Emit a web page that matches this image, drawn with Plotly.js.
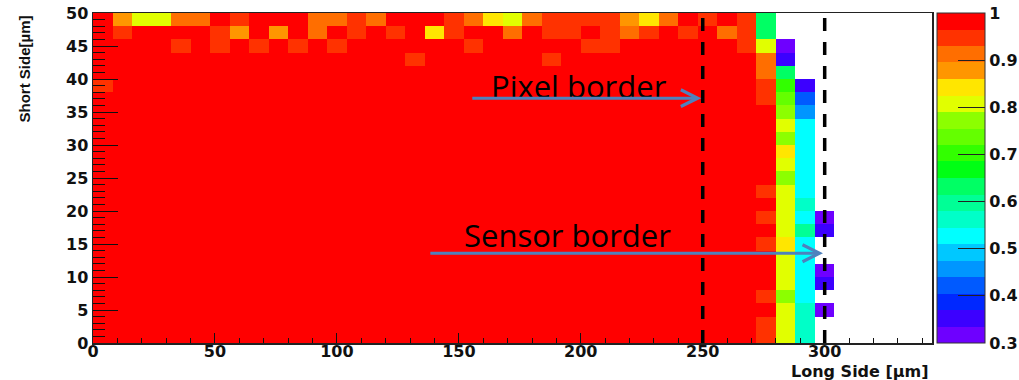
<!DOCTYPE html>
<html>
<head>
<meta charset="utf-8">
<script src="https://cdn.plot.ly/plotly-3.0.1.min.js"></script>
<style>
  html, body { margin: 0; padding: 0; background: #ffffff; }
  #chart { width: 1019px; height: 380px; }
</style>
</head>
<body>
<div id="chart"></div>
<script>
// Hit efficiency per 8 um x 2 um cell of a pixel corner.
// Rows are listed from the top strip (48-50 um) down to 0-2 um;
// columns run along the long side, 0-8 um first. NA = no entries.
const NA = null;
const binLong = 8;   // um, long side
const binShort = 2;  // um, short side

const efficiencyRows = [
  [1, 0.88, 0.81, 0.81, 0.91, 0.91, 1, 0.95, 1, 1,   1, 0.91, 0.91, 0.95, 0.91, 1, 1, 1, 0.95, 0.91,   0.84, 0.81, 0.91, 0.95, 0.95, 0.95, 0.95, 0.88, 0.84, 0.91,   1, 0.95, 1, 0.95, 0.63, NA, NA, NA, NA, NA,   NA, NA, NA],
  [1, 0.95, 1, 1, 1, 1, 0.95, 0.88, 1, 0.88,   1, 0.91, 1, 0.95, 1, 0.95, 1, 0.84, 0.95, 1,   1, 0.91, 1, 0.95, 0.95, 1, 0.95, 0.91, 0.95, 1,   0.95, 1, 0.91, 0.95, 0.63, NA, NA, NA, NA, NA,   NA, NA, NA],
  [1, 1, 1, 1, 0.95, 1, 0.95, 1, 0.95, 1,   0.95, 1, 0.95, 1, 1, 1, 1, 1, 1, 0.95,   1, 1, 1, 1, 1, 0.95, 0.95, 1, 1, 1,   1, 1, 1, 0.95, 0.81, 0.32, NA, NA, NA, NA,   NA, NA, NA],
  [1, 1, 1, 1, 1, 1, 1, 1, 1, 1,   1, 1, 1, 1, 1, 1, 0.95, 1, 1, 1,   1, 1, 1, 0.95, 1, 1, 1, 1, 1, 1,   1, 1, 1, 1, 0.91, 0.35, NA, NA, NA, NA,   NA, NA, NA],
  [1, 1, 1, 1, 1, 1, 1, 1, 1, 1,   1, 1, 1, 1, 1, 1, 1, 1, 1, 1,   1, 1, 1, 1, 1, 1, 1, 1, 1, 1,   1, 1, 1, 1, 0.91, 0.63, NA, NA, NA, NA,   NA, NA, NA],
  [0.95, 1, 1, 1, 1, 1, 1, 1, 1, 1,   1, 1, 1, 1, 1, 1, 1, 1, 1, 1,   1, 1, 1, 1, 1, 1, 1, 1, 1, 1,   1, 1, 1, 1, 0.95, 0.70, 0.36, NA, NA, NA,   NA, NA, NA],
  [1, 1, 1, 1, 1, 1, 1, 1, 1, 1,   1, 1, 1, 1, 1, 1, 1, 1, 1, 1,   1, 1, 1, 1, 1, 1, 1, 1, 1, 1,   1, 1, 1, 1, 0.95, 0.74, 0.42, NA, NA, NA,   NA, NA, NA],
  [1, 1, 1, 1, 1, 1, 1, 1, 1, 1,   1, 1, 1, 1, 1, 1, 1, 1, 1, 1,   1, 1, 1, 1, 1, 1, 1, 1, 1, 1,   1, 1, 1, 1, 1, 0.77, 0.46, NA, NA, NA,   NA, NA, NA],
  [1, 1, 1, 1, 1, 1, 1, 1, 1, 1,   1, 1, 1, 1, 1, 1, 1, 1, 1, 1,   1, 1, 1, 1, 1, 1, 1, 1, 1, 1,   1, 1, 1, 1, 1, 0.81, 0.53, NA, NA, NA,   NA, NA, NA],
  [1, 1, 1, 1, 1, 1, 1, 1, 1, 1,   1, 1, 1, 1, 1, 1, 1, 1, 1, 1,   1, 1, 1, 1, 1, 1, 1, 1, 1, 1,   1, 1, 1, 1, 1, 0.77, 0.53, NA, NA, NA,   NA, NA, NA],
  [1, 1, 1, 1, 1, 1, 1, 1, 1, 1,   1, 1, 1, 1, 1, 1, 1, 1, 1, 1,   1, 1, 1, 1, 1, 1, 1, 1, 1, 1,   1, 1, 1, 1, 1, 0.84, 0.53, NA, NA, NA,   NA, NA, NA],
  [1, 1, 1, 1, 1, 1, 1, 1, 1, 1,   1, 1, 1, 1, 1, 1, 1, 1, 1, 1,   1, 1, 1, 1, 1, 1, 1, 1, 1, 1,   1, 1, 1, 1, 1, 0.81, 0.53, NA, NA, NA,   NA, NA, NA],
  [1, 1, 1, 1, 1, 1, 1, 1, 1, 1,   1, 1, 1, 1, 1, 1, 1, 1, 1, 1,   1, 1, 1, 1, 1, 1, 1, 1, 1, 1,   1, 1, 1, 1, 1, 0.77, 0.53, NA, NA, NA,   NA, NA, NA],
  [1, 1, 1, 1, 1, 1, 1, 1, 1, 1,   1, 1, 1, 1, 1, 1, 1, 1, 1, 1,   1, 1, 1, 1, 1, 1, 1, 1, 1, 1,   1, 1, 1, 1, 0.95, 0.81, 0.53, NA, NA, NA,   NA, NA, NA],
  [1, 1, 1, 1, 1, 1, 1, 1, 1, 1,   1, 1, 1, 1, 1, 1, 1, 1, 1, 1,   1, 1, 1, 1, 1, 1, 1, 1, 1, 1,   1, 1, 1, 1, 1, 0.81, 0.56, NA, NA, NA,   NA, NA, NA],
  [1, 1, 1, 1, 1, 1, 1, 1, 1, 1,   1, 1, 1, 1, 1, 1, 1, 1, 1, 1,   1, 1, 1, 1, 1, 1, 1, 1, 1, 1,   1, 1, 1, 1, 0.95, 0.81, 0.53, 0.32, NA, NA,   NA, NA, NA],
  [1, 1, 1, 1, 1, 1, 1, 1, 1, 1,   1, 1, 1, 1, 1, 1, 1, 1, 1, 1,   1, 1, 1, 1, 1, 1, 1, 1, 1, 1,   1, 1, 1, 1, 1, 0.81, 0.60, 0.35, NA, NA,   NA, NA, NA],
  [1, 1, 1, 1, 1, 1, 1, 1, 1, 1,   1, 1, 1, 1, 1, 1, 1, 1, 1, 1,   1, 1, 1, 1, 1, 1, 1, 1, 1, 1,   1, 1, 1, 1, 0.95, 0.84, 0.53, NA, NA, NA,   NA, NA, NA],
  [1, 1, 1, 1, 1, 1, 1, 1, 1, 1,   1, 1, 1, 1, 1, 1, 1, 1, 1, 1,   1, 1, 1, 1, 1, 1, 1, 1, 1, 1,   1, 1, 1, 1, 1, 0.81, 0.53, NA, NA, NA,   NA, NA, NA],
  [1, 1, 1, 1, 1, 1, 1, 1, 1, 1,   1, 1, 1, 1, 1, 1, 1, 1, 1, 1,   1, 1, 1, 1, 1, 1, 1, 1, 1, 1,   1, 1, 1, 1, 1, 0.81, 0.53, 0.32, NA, NA,   NA, NA, NA],
  [1, 1, 1, 1, 1, 1, 1, 1, 1, 1,   1, 1, 1, 1, 1, 1, 1, 1, 1, 1,   1, 1, 1, 1, 1, 1, 1, 1, 1, 1,   1, 1, 1, 1, 1, 0.81, 0.53, 0.35, NA, NA,   NA, NA, NA],
  [1, 1, 1, 1, 1, 1, 1, 1, 1, 1,   1, 1, 1, 1, 1, 1, 1, 1, 1, 1,   1, 1, 1, 1, 1, 1, 1, 1, 1, 1,   1, 1, 1, 1, 0.95, 0.77, 0.53, NA, NA, NA,   NA, NA, NA],
  [1, 1, 1, 1, 1, 1, 1, 1, 1, 1,   1, 1, 1, 1, 1, 1, 1, 1, 1, 1,   1, 1, 1, 1, 1, 1, 1, 1, 1, 1,   1, 1, 1, 1, 1, 0.81, 0.56, 0.32, NA, NA,   NA, NA, NA],
  [1, 1, 1, 1, 1, 1, 1, 1, 1, 1,   1, 1, 1, 1, 1, 1, 1, 1, 1, 1,   1, 1, 1, 1, 1, 1, 1, 1, 1, 1,   1, 1, 1, 1, 0.95, 0.81, 0.56, NA, NA, NA,   NA, NA, NA],
  [1, 1, 1, 1, 1, 1, 1, 1, 1, 1,   1, 1, 1, 1, 1, 1, 1, 1, 1, 1,   1, 1, 1, 1, 1, 1, 1, 1, 1, 1,   1, 1, 1, 1, 0.95, 0.81, 0.56, NA, NA, NA,   NA, NA, NA]
];

// 20 contour colours from 0.3 (violet) up to 1.0 (red)
const contourColours = [
  '#6e00ff', '#3c00ff', '#0028ff', '#005aff', '#0096ff',
  '#00c8ff', '#00ffff', '#00ffc8', '#00ff96', '#00ff64',
  '#00ff14', '#32ff00', '#64ff00', '#8cff00', '#e1ff00',
  '#ffe600', '#ff9600', '#ff6e00', '#ff3200', '#ff0000'
];
const zLow = 0.3;
const zHigh = 1.0;
const colourTickValues = [0.3, 0.4, 0.5, 0.6, 0.7, 0.8, 0.9, 1.0];
const colourTickLabels = ['0.3', '0.4', '0.5', '0.6', '0.7', '0.8', '0.9', '1'];

// Long-side positions of the pixel border and the sensor border (um)
const borderLines = [250, 300];

// stepped colour scale: each contour band gets one flat colour
const stepScale = [];
contourColours.forEach((c, i) => {
  stepScale.push([i / contourColours.length, c]);
  stepScale.push([(i + 1) / contourColours.length, c]);
});

const boldFont = { family: 'DejaVu Sans, sans-serif', size: 16, weight: 'bold', color: '#111111' };

const trace = {
  type: 'heatmap',
  z: efficiencyRows.slice().reverse(),
  x0: binLong / 2,
  dx: binLong,
  y0: binShort / 2,
  dy: binShort,
  zmin: zLow,
  zmax: zHigh,
  zsmooth: false,
  colorscale: stepScale,
  hoverongaps: false,
  colorbar: {
    x: 1.006, xanchor: 'left', xpad: 0,
    y: 0.5, yanchor: 'middle', ypad: 0,
    len: 1, lenmode: 'fraction',
    thickness: 48, thicknessmode: 'pixels',
    outlinewidth: 1, outlinecolor: '#333333',
    ticks: 'inside', ticklen: 27, tickwidth: 1, tickcolor: '#222222',
    tickvals: colourTickValues, ticktext: colourTickLabels,
    tickfont: boldFont
  }
};

const shapes = borderLines.map(xv => ({
  type: 'line', xref: 'x', yref: 'y',
  x0: xv, x1: xv, y0: 0, y1: 50,
  line: { color: '#000000', width: 3.5, dash: '13px,11px' },
  layer: 'above'
}));

const arrowStyle = {
  xref: 'x', yref: 'y', axref: 'x', ayref: 'y',
  showarrow: true, arrowhead: 5, arrowsize: 1.1, arrowwidth: 3,
  arrowcolor: '#4f81bd', standoff: 0, text: ''
};
const noteFont = { family: 'Open Sans, sans-serif', size: 31, color: '#000000' };

const annotations = [
  // axis titles
  {
    text: 'Short Side[\u00b5m]', textangle: -90, showarrow: false,
    xref: 'paper', yref: 'paper', x: 0, y: 1, xanchor: 'center', yanchor: 'top',
    xshift: -69, yshift: -1,
    font: { family: 'Liberation Sans, Arial, sans-serif', size: 15, weight: 'bold', color: '#111111' }
  },
  {
    text: 'Long Side [\u00b5m]', showarrow: false,
    xref: 'paper', yref: 'paper', x: 1, y: 0, xanchor: 'right', yanchor: 'top',
    xshift: -1, yshift: -17,
    font: { family: 'DejaVu Sans, sans-serif', size: 16, weight: 'bold', color: '#111111' }
  },
  // border labels and arrows
  {
    text: 'Pixel border', showarrow: false, xref: 'x', yref: 'y',
    x: 199.1, y: 38.9, xanchor: 'center', yanchor: 'middle', font: noteFont
  },
  Object.assign({ x: 249.4, y: 37.1, ax: 154.9, ay: 37.1 }, arrowStyle),
  {
    text: 'Sensor border', showarrow: false, xref: 'x', yref: 'y',
    x: 194.5, y: 16.3, xanchor: 'center', yanchor: 'middle', font: noteFont
  },
  Object.assign({ x: 299.3, y: 13.6, ax: 137.7, ay: 13.6 }, arrowStyle)
];

const layout = {
  width: 1019,
  height: 380,
  margin: { l: 93, r: 87, t: 13, b: 37, pad: 0, autoexpand: false },
  paper_bgcolor: '#ffffff',
  plot_bgcolor: '#ffffff',
  font: { family: 'DejaVu Sans, sans-serif', color: '#111111' },
  showlegend: false,
  xaxis: {
    range: [0, 344], tick0: 0, dtick: 50,
    ticks: 'inside', ticklen: 10, tickwidth: 1, tickcolor: '#111111',
    minor: { dtick: 10, ticks: 'inside', ticklen: 5, tickwidth: 1, tickcolor: '#111111' },
    showline: true, linecolor: '#222222', linewidth: 1.5, mirror: true,
    showgrid: false, zeroline: false, fixedrange: true,
    ticklabelstandoff: -7,
    tickfont: boldFont
  },
  yaxis: {
    range: [0, 50], tick0: 0, dtick: 5,
    ticks: 'inside', ticklen: 25, tickwidth: 1, tickcolor: '#111111',
    minor: { dtick: 1, ticks: 'inside', ticklen: 12, tickwidth: 1, tickcolor: '#111111' },
    showline: true, linecolor: '#222222', linewidth: 1.5, mirror: true,
    showgrid: false, zeroline: false, fixedrange: true,
    tickfont: boldFont
  },
  shapes: shapes,
  annotations: annotations
};

Plotly.newPlot('chart', [trace], layout, { staticPlot: true, displayModeBar: false });
</script>
</body>
</html>
